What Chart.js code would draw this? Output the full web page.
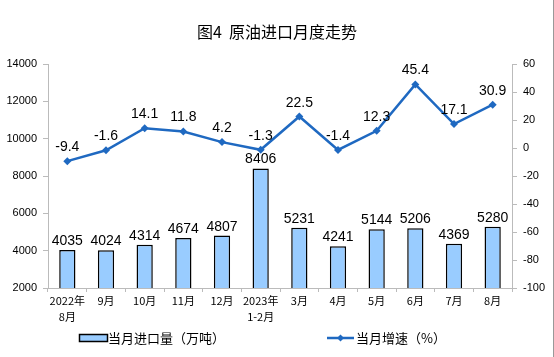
<!DOCTYPE html>
<html><head><meta charset="utf-8">
<script src="https://cdn.jsdelivr.net/npm/chart.js@4/dist/chart.umd.min.js"></script>
<style>html,body{margin:0;padding:0;background:#fff}#w{width:554px;height:357px;position:relative}</style>
</head><body><div id="w"><canvas id="c" width="554" height="357"></canvas></div>
<script>
const categories = [["2022年","8月"],"9月","10月","11月","12月",["2023年","1-2月"],"3月","4月","5月","6月","7月","8月"];
const importVolume = [4035,4024,4314,4674,4807,8406,5231,4241,5144,5206,4369,5280];
const growthRate = [-9.4,-1.6,14.1,11.8,4.2,-1.3,22.5,-1.4,12.3,45.4,17.1,30.9];
const leftTicks = [2000,14000,2000];
const rightTicks = [-100,60,20];
const titleText = "图4  原油进口月度走势";
const legendBar = "当月进口量（万吨）";
const legendLine = "当月增速（%）";
const lineColor = "#1F69C1";
const barColor = "#99CCFF";
const CJK = '"Noto Sans CJK SC", sans-serif';
const NUM = '"Liberation Sans", Arial, sans-serif';

const labelPlugin = {
  id:'labels',
  afterDatasetsDraw(chart){
    const ctx = chart.ctx;
    ctx.save();
    ctx.fillStyle = '#000';
    ctx.textAlign = 'center';
    ctx.textBaseline = 'alphabetic';
    ctx.font = '14px ' + NUM;
    chart.getDatasetMeta(0).data.forEach((el,i)=>{
      ctx.fillText(String(importVolume[i]), el.x, el.y - 5);
    });
    chart.getDatasetMeta(1).data.forEach((el,i)=>{
      ctx.fillText(growthRate[i].toFixed(1), el.x, el.y - 10);
    });
    ctx.font = '16px ' + CJK;
    ctx.fillText(titleText, 277, 38);
    ctx.font = '13px ' + CJK;
    ctx.textAlign = 'left';
    ctx.textBaseline = 'middle';
    ctx.fillStyle = barColor;
    ctx.fillRect(79.5, 334.5, 28, 7);
    ctx.strokeStyle = '#000'; ctx.lineWidth = 1.5;
    ctx.strokeRect(79.5, 334.5, 28, 7);
    ctx.fillStyle = '#000';
    ctx.fillText(legendBar, 108, 338);
    ctx.strokeStyle = lineColor; ctx.lineWidth = 2.5;
    ctx.beginPath(); ctx.moveTo(327, 338); ctx.lineTo(354, 338); ctx.stroke();
    ctx.fillStyle = lineColor;
    ctx.beginPath(); ctx.moveTo(340.5,334.5); ctx.lineTo(344,338); ctx.lineTo(340.5,341.5); ctx.lineTo(337,338); ctx.closePath(); ctx.fill();
    ctx.fillStyle = '#000';
    ctx.fillText(legendLine, 356, 338);
    ctx.strokeStyle = '#999'; ctx.lineWidth = 1;
    ctx.beginPath(); ctx.moveTo(553.5,0); ctx.lineTo(553.5,357); ctx.stroke();
    ctx.restore();
  }
};

new Chart(document.getElementById('c'), {
  data: {
    labels: categories,
    datasets: [
      {type:'bar', label:legendBar, data:importVolume, yAxisID:'y', backgroundColor:barColor, borderColor:'#000', borderWidth:1.5, barPercentage:0.42, categoryPercentage:1.0, order:2},
      {type:'line', label:legendLine, data:growthRate, yAxisID:'y1', borderColor:lineColor, backgroundColor:lineColor, borderWidth:2.5, pointStyle:'rectRot', pointRadius:4, pointBorderWidth:0, tension:0, order:1}
    ]
  },
  options: {
    responsive:false, animation:false,
    layout:{padding:{top:64, bottom:28, left:0, right:0}},
    plugins:{legend:{display:false}, title:{display:false}, tooltip:{enabled:false}},
    scales:{
      x:{
        offset:true,
        grid:{display:true, drawOnChartArea:false, offset:true, tickLength:4, color:'#bbb'},
        border:{color:'#bbb'},
        ticks:{font:{family:CJK, size:11, lineHeight:1.45}, color:'#000', maxRotation:0, autoSkip:false, padding:1},
        afterFit(s){ s.height = 41; }
      },
      y:{
        position:'left', min:leftTicks[0], max:leftTicks[1],
        ticks:{stepSize:leftTicks[2], font:{family:NUM, size:11}, color:'#000', padding:6, callback:v=>String(v)},
        grid:{display:true, drawOnChartArea:false, tickLength:5, color:'#bbb'},
        border:{color:'#bbb'},
        afterFit(s){ s.width = 48; }
      },
      y1:{
        position:'right', min:rightTicks[0], max:rightTicks[1],
        ticks:{stepSize:rightTicks[2], font:{family:NUM, size:11}, color:'#000', padding:6, callback:v=>String(v)},
        grid:{display:true, drawOnChartArea:false, tickLength:5, color:'#bbb'},
        border:{color:'#bbb'},
        afterFit(s){ s.width = 554 - 512; }
      }
    }
  },
  plugins:[labelPlugin]
});
</script></body></html>
